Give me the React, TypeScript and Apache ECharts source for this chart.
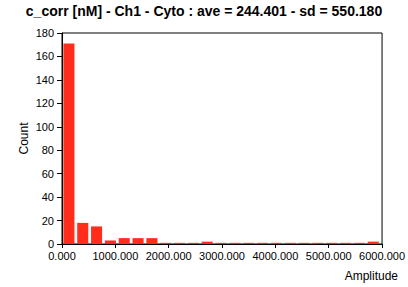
import React, { useEffect, useRef } from "react";
import * as echarts from "echarts";

const titleText = "c_corr [nM] - Ch1 - Cyto : ave = 244.401 - sd = 550.180";
const binStart = 0;
const binWidth = 259.3;
const counts = [171, 18, 15, 3, 5, 5, 5, 1, 1, 1, 2, 1, 1, 1, 1, 1, 1, 1, 1, 1, 1, 1, 2];
const xAxisName = "Amplitude";
const yAxisName = "Count";

export default function App() {
  const ref = useRef<HTMLDivElement>(null);
  useEffect(() => {
    if (!ref.current) return;
    const chart = echarts.init(ref.current, null, { renderer: "svg" });
    const data = counts.map((c, i) => [binStart + i * binWidth, binStart + (i + 1) * binWidth, c]);
    const font = "Liberation Sans";
    chart.setOption({
      animation: false,
      backgroundColor: "#fff",
      title: {
        text: titleText,
        left: "center",
        top: 0,
        padding: [4, 5, 5, 5],
        textStyle: { fontFamily: font, fontSize: 14, fontWeight: "bold", color: "#000" },
      },
      grid: { left: 62, right: 25, top: 33, bottom: 43, show: true, borderColor: "#000", borderWidth: 1 },
      xAxis: {
        type: "value",
        min: 0,
        max: 6000,
        interval: 1000,
        axisLine: { show: true, lineStyle: { color: "#000", width: 1 } },
        axisTick: { show: true, length: 4, lineStyle: { color: "#000" } },
        splitLine: { show: false },
        axisLabel: {
          fontFamily: font,
          fontSize: 11,
          color: "#000",
          margin: 6,
          formatter: (v: number) => v.toFixed(3),
        },
      },
      yAxis: {
        type: "value",
        min: 0,
        max: 180,
        interval: 20,
        name: yAxisName,
        nameLocation: "middle",
        nameRotate: 90,
        nameGap: 32,
        nameMoveOverlap: false,
        nameTextStyle: { fontFamily: font, fontSize: 12, color: "#000" },
        axisLine: { show: true, lineStyle: { color: "#000", width: 1 } },
        axisTick: { show: true, length: 5, lineStyle: { color: "#000" } },
        splitLine: { show: false },
        axisLabel: { fontFamily: font, fontSize: 11, color: "#000", margin: 8 },
      },
      graphic: [
        {
          type: "text",
          right: 10,
          top: 270,
          style: { text: xAxisName, fontFamily: font, fontSize: 12, fill: "#000" },
        },
      ],
      series: [
        {
          type: "custom",
          data,
          encode: { x: [0, 1], y: 2 },
          renderItem: (params: any, api: any) => {
            const lo = api.value(0);
            const hi = api.value(1);
            const c = api.value(2);
            const p0 = api.coord([lo, c]);
            const p1 = api.coord([hi, 0]);
            const w = p1[0] - p0[0];
            const inset = w * 0.1;
            return {
              type: "rect",
              shape: { x: p0[0] + inset, y: p0[1], width: w - 2 * inset, height: p1[1] - p0[1] },
              style: { fill: "#ff2d1a" },
            };
          },
        },
      ],
    });
    return () => chart.dispose();
  }, []);
  return <div ref={ref} style={{ position: "fixed", left: 0, top: 0, width: 408, height: 287 }} />;
}
